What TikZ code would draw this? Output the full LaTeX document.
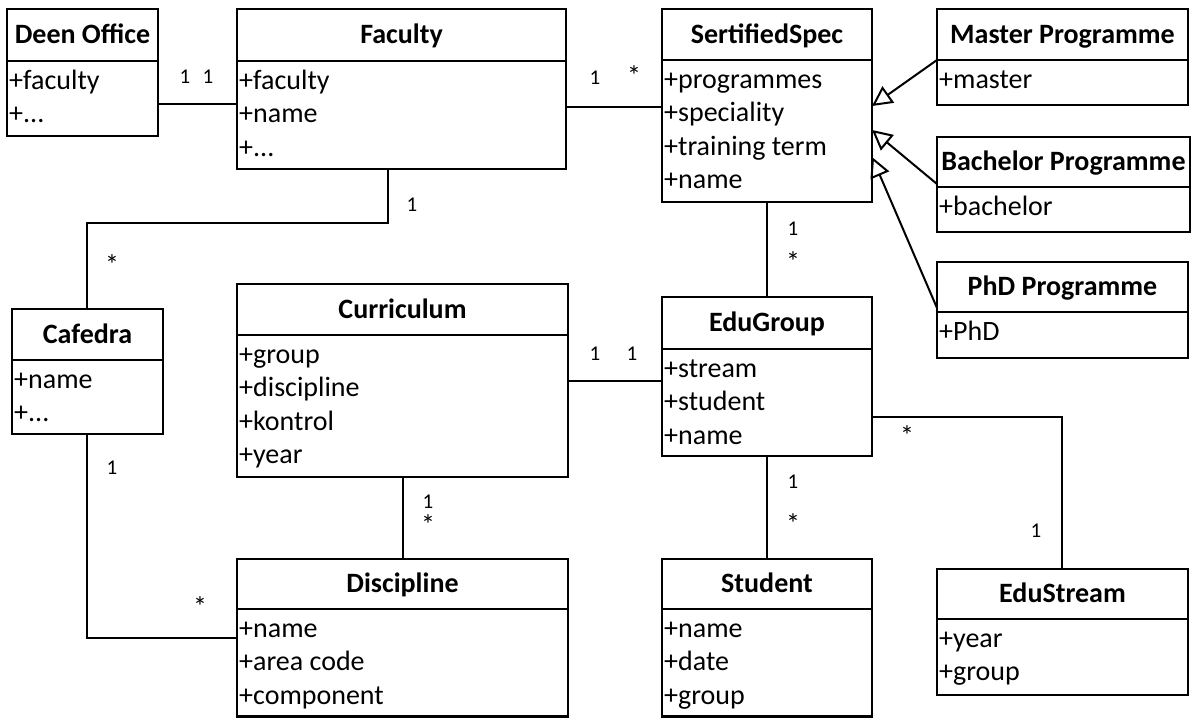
\documentclass[tikz,border=0pt]{standalone}
\usepackage{fontspec}
\setmainfont{Carlito}
\usetikzlibrary{arrows.meta}
\newcommand{\tdots}{...}
\tikzset{
  clsbox/.style={draw, line width=2.6pt, inner sep=0pt, outer sep=0pt},
  divline/.style={line width=2.6pt},
  titletext/.style={font=\fontsize{28}{33}\selectfont\bfseries, inner sep=0pt, anchor=base},
  attrtext/.style={font=\fontsize{28}{33}\selectfont, inner sep=0pt, anchor=base west},
  multlabel/.style={font=\fontsize{21}{24}\selectfont, inner sep=0pt},
  multstar/.style={font=\fontsize{28}{30}\selectfont, inner sep=0pt},
  assoc/.style={line width=2pt},
  genline/.style={line width=2pt, -{Triangle[open, length=20pt, width=20pt, line width=2pt]}},
}
\newcommand{\umlcls}[8]{%
  \node[clsbox, minimum width={(#4-#2)*1pt}, minimum height={(#6-#3)*1pt}] (#1) at ({(#2+#4)/2},{(#3+#6)/2}) {};
  \node[titletext] (#1-t) at ({(#2+#4)/2},{(#3+#5)/2+8.5}) {#7};
  \draw[divline] (#1.west |- 0,#5) -- (#1.east |- 0,#5);
  \foreach \a [count=\i from 0] in {#8} {
    \node[attrtext] (#1-a\i) at ({#2+2},{#5+28.5+\i*33.3}) {\a};
  }
}
\begin{document}
\begin{tikzpicture}[x=1pt, y=-1pt]
\useasboundingbox (0,0) rectangle (1192,718);
\fill[white] (0,0) rectangle (1192,718);

\umlcls{deen}{7}{9}{158}{61}{136}{Deen Office}{+faculty,+\tdots}
\umlcls{fac}{237}{9}{566}{61}{169}{Faculty}{+faculty,+name,+\tdots}
\umlcls{ss}{662}{9}{872}{60}{202}{SertifiedSpec}{+programmes,+speciality,+training term,+name}
\umlcls{mas}{937}{9}{1188}{60}{105}{Master Programme}{+master}
\umlcls{bac}{937}{137}{1190}{187}{232}{Bachelor Programme}{+bachelor}
\umlcls{phd}{937}{262}{1188}{312}{358}{PhD Programme}{+PhD}
\umlcls{caf}{12}{309}{163}{360}{434}{Cafedra}{+name,+\tdots}
\umlcls{cur}{237}{284}{568}{335}{477}{Curriculum}{+group,+discipline,+kontrol,+year}
\umlcls{edg}{662}{297}{872}{349}{456}{EduGroup}{+stream,+student,+name}
\umlcls{dis}{237}{559}{568}{609}{716.5}{Discipline}{+name,+area code,+component}
\umlcls{stu}{662}{559}{872}{609}{716.5}{Student}{+name,+date,+group}
\umlcls{eds}{937}{569}{1188}{619}{695}{EduStream}{+year,+group}

% associations
\draw[assoc] (deen.east |- 0,104) -- (fac.west |- 0,104);
\node[multlabel] (l1) at (185,77) {1};
\node[multlabel] (l2) at (208,77) {1};

\draw[assoc] (fac.east |- 0,107) -- (ss.west |- 0,107);
\node[multlabel] (l3) at (595,78) {1};
\node[multstar] (l4) at (634,76) {*};

\coordinate (c1) at (388,223);
\coordinate (c2) at (87,223);
\draw[assoc] (fac.south -| c1) -- (c1) -- (c2) -- (caf.north -| c2);
\node[multlabel] (l5) at (412,205) {1};
\node[multstar] (l6) at (112,265) {*};

\draw[assoc] (ss.south) -- (edg.north);
\node[multlabel] (l7) at (793,229) {1};
\node[multstar] (l8) at (793,262) {*};

\draw[assoc] (cur.east |- 0,381) -- (edg.west |- 0,381);
\node[multlabel] (l9) at (595,354) {1};
\node[multlabel] (l10) at (632,354) {1};

\coordinate (c3) at (1062,417);
\draw[assoc] (edg.east |- c3) -- (c3) -- (eds.north -| c3);
\node[multstar] (l11) at (907,436) {*};
\node[multlabel] (l12) at (1036,531) {1};

\draw[assoc] (edg.south) -- (stu.north);
\node[multlabel] (l13) at (793,482) {1};
\node[multstar] (l14) at (793,524) {*};

\draw[assoc] (cur.south) -- (dis.north -| cur.south);
\node[multlabel] (l15) at (428,502) {1};
\node[multstar] (l16) at (428,525) {*};

\coordinate (c4) at (87,638);
\draw[assoc] (caf.south -| c4) -- (c4) -- (dis.west |- c4);
\node[multlabel] (l17) at (112,468) {1};
\node[multstar] (l18) at (200,607) {*};

% generalizations
\draw[genline] (mas.west |- 0,60) -- (ss.east |- 0,106);
\draw[genline] (bac.west |- 0,184) -- (ss.east |- 0,130);
\draw[genline] (phd.west |- 0,308) -- (ss.east |- 0,157);
\end{tikzpicture}
\end{document}
